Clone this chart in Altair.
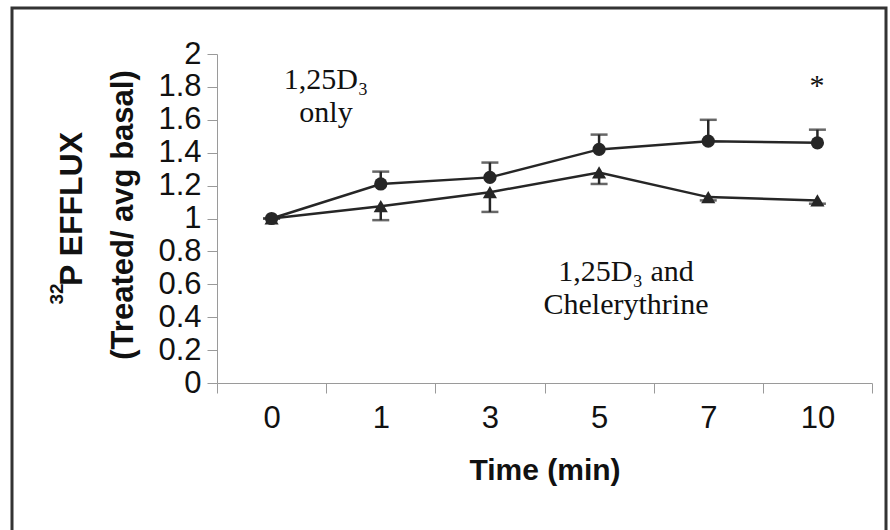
import altair as alt
import pandas as pd

# ---- data ----
times = ["0", "1", "3", "5", "7", "10"]
d3_only = [1.00, 1.21, 1.25, 1.42, 1.47, 1.46]          # 1,25D3 only (circles)
d3_only_err = [0.00, 0.075, 0.09, 0.09, 0.13, 0.08]      # upper error bars
d3_chel = [1.00, 1.075, 1.16, 1.28, 1.13, 1.11]          # 1,25D3 + Chelerythrine (triangles)
d3_chel_err = [0.00, 0.085, 0.12, 0.07, 0.02, 0.02]      # lower error bars
y_ticks = [0, 0.2, 0.4, 0.6, 0.8, 1.0, 1.2, 1.4, 1.6, 1.8, 2.0]

df_a = pd.DataFrame({"time": times, "value": d3_only, "err": d3_only_err})
df_a["end"] = df_a["value"] + df_a["err"]
df_b = pd.DataFrame({"time": times, "value": d3_chel, "err": d3_chel_err})
df_b["end"] = df_b["value"] - df_b["err"]

INK = "#262626"
AXIS_GRAY = "#9a9a9a"
SANS = "Liberation Sans"
SERIF = "Liberation Serif"

x_axis = alt.Axis(
    tickBand="extent", labelAngle=0, tickSize=10, tickColor=AXIS_GRAY,
    domainColor=AXIS_GRAY, labelFont=SANS, labelFontSize=31, labelColor="#111",
    labelPadding=10, titleFont=SANS, titleFontSize=30, titleFontWeight="bold",
    titleColor="#111", titlePadding=22, grid=False,
)
y_axis = alt.Axis(
    values=y_ticks, format="~g", tickSize=10, tickColor=AXIS_GRAY,
    domainColor=AXIS_GRAY, labelFont=SANS, labelFontSize=31, labelColor="#111",
    labelPadding=6, grid=False,
)
x_scale = alt.Scale(type="band", paddingInner=0, paddingOuter=0)
y_scale = alt.Scale(domain=[0, 2], nice=False)


def X():
    return alt.X("time:N", sort=times, scale=x_scale, axis=x_axis, title="Time (min)")


def Y(field):
    return alt.Y(f"{field}:Q", scale=y_scale, axis=y_axis, title=None)


def series(df, shape, size):
    base = alt.Chart(df)
    line = base.mark_line(color=INK, strokeWidth=2.5).encode(x=X(), y=Y("value"))
    err = base.mark_rule(color=INK, strokeWidth=2.5).encode(x=X(), y=Y("value"), y2="end:Q")
    cap = base.mark_tick(color=INK, thickness=2.5, size=17).encode(x=X(), y=Y("end"))
    pts = base.mark_point(shape=shape, size=size, filled=True, color=INK, opacity=1).encode(
        x=X(), y=Y("value"))
    return [line, err, cap, pts]


one = alt.Data(values=[{}])


def label(txt, px, py, size=30, font=SERIF, weight="normal", angle=0, baseline="middle"):
    return alt.Chart(one).mark_text(
        font=font, fontSize=size, fontWeight=weight, color="#111", align="center",
        baseline=baseline, angle=angle,
    ).encode(x=alt.value(px), y=alt.value(py), text=alt.value(txt))


border = alt.Chart(one).mark_rect(fillOpacity=0, stroke="#333", strokeWidth=3).encode(
    x=alt.value(-205), x2=alt.value(669), y=alt.value(-46), y2=alt.value(490))

y_title = [
    label("P EFFLUX", -135, 155, size=32, font=SANS, weight="bold", angle=270,
          baseline="alphabetic"),
    label("32", -154, 240, size=19, font=SANS, weight="bold", angle=270,
          baseline="alphabetic"),
    label("(Treated/ avg basal)", -84, 161, size=31, font=SANS, weight="bold", angle=270,
          baseline="alphabetic"),
]

layers = (
    [border]
    + series(df_b, "triangle-up", 200)
    + series(df_a, "circle", 175)
    + [
        label("1,25D₃", 109, 26),
        label("only", 109, 59),
        label("*", 600, 32),
        label("1,25D₃ and", 409, 218),
        label("Chelerythrine", 409, 251),
    ]
    + y_title
)

chart = alt.layer(*layers).properties(
    width=655, height=329, autosize="none",
    padding={"left": 217, "top": 54, "right": 18, "bottom": 147},
    background="white",
).configure_view(strokeWidth=0)

chart.save("out.html", embed_options={"renderer": "svg", "actions": False})
